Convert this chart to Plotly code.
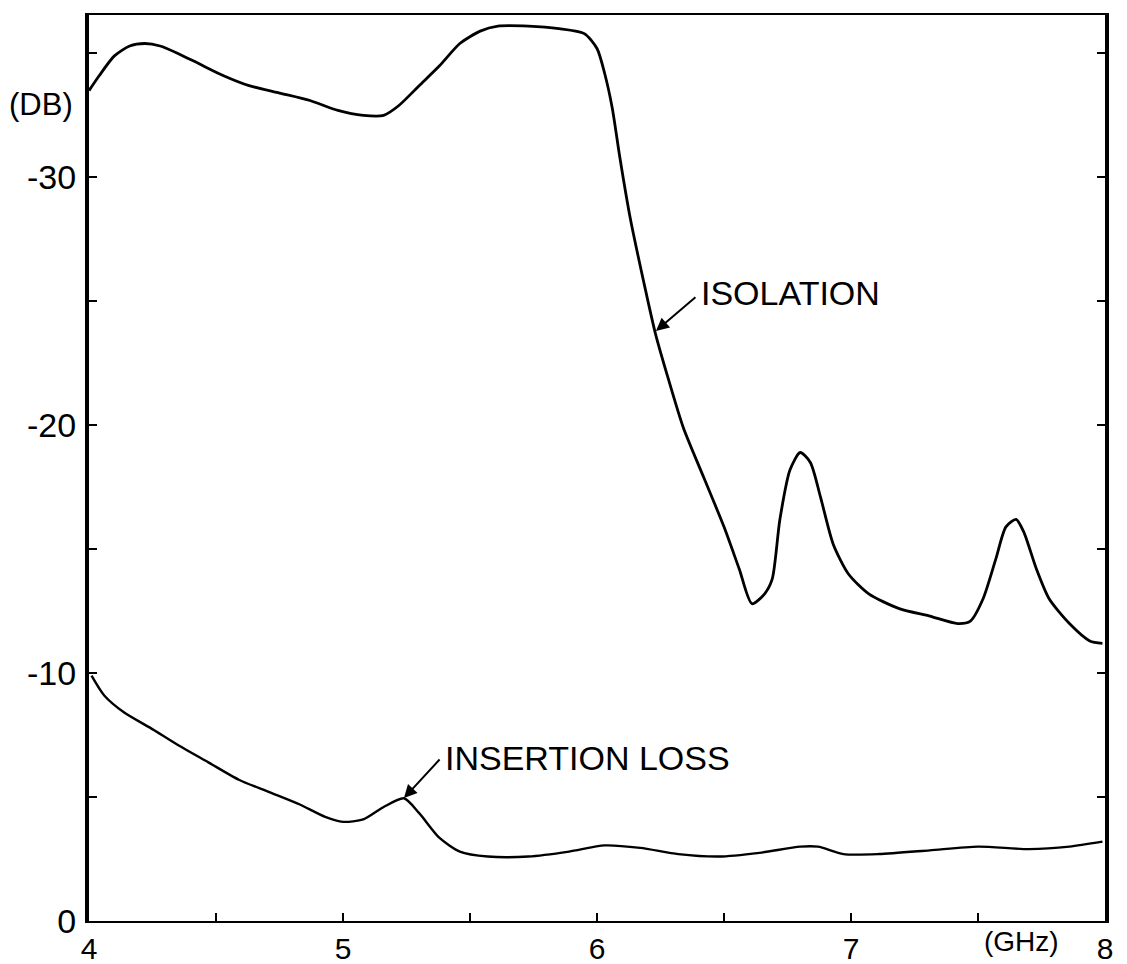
import plotly.graph_objects as go

# ---- data ----
iso_freq = [4.00, 4.04, 4.10, 4.16, 4.22, 4.28, 4.35, 4.43, 4.53, 4.63, 4.75, 4.87, 4.98,
            5.08, 5.16, 5.22, 5.30, 5.38, 5.46, 5.54, 5.61, 5.73, 5.85, 5.95, 6.00, 6.03,
            6.06, 6.09, 6.13, 6.19, 6.23, 6.28, 6.34, 6.42, 6.50, 6.56, 6.61, 6.66, 6.69,
            6.72, 6.76, 6.80, 6.84, 6.88, 6.93, 6.99, 7.07, 7.19, 7.31, 7.42, 7.47, 7.52,
            7.57, 7.61, 7.65, 7.68, 7.73, 7.78, 7.86, 7.94, 7.99]
iso_db = [-33.5, -34.1, -34.9, -35.3, -35.4, -35.3, -35.0, -34.6, -34.1, -33.7, -33.4, -33.1, -32.7,
          -32.5, -32.5, -32.9, -33.7, -34.5, -35.4, -35.9, -36.1, -36.1, -36.0, -35.8, -35.2, -34.2,
          -32.8, -30.8, -28.4, -25.5, -23.7, -21.9, -19.9, -17.9, -15.9, -14.2, -12.8, -13.2, -13.8,
          -16.2, -18.2, -18.9, -18.5, -17.1, -15.2, -14.0, -13.2, -12.6, -12.3, -12.0, -12.1, -13.0,
          -14.6, -15.9, -16.2, -15.7, -14.2, -13.0, -12.0, -11.3, -11.2]

il_freq = [4.01, 4.06, 4.14, 4.24, 4.35, 4.47, 4.59, 4.71, 4.83, 4.93, 5.00, 5.08, 5.16,
           5.24, 5.30, 5.38, 5.46, 5.57, 5.73, 5.89, 6.03, 6.17, 6.32, 6.48, 6.64, 6.80,
           6.87, 6.97, 7.11, 7.31, 7.50, 7.70, 7.86, 7.99]
il_db = [-9.9, -9.1, -8.4, -7.8, -7.1, -6.4, -5.7, -5.2, -4.7, -4.2, -4.0, -4.1, -4.6,
         -4.95, -4.35, -3.35, -2.8, -2.6, -2.6, -2.8, -3.05, -2.95, -2.7, -2.6, -2.75, -3.0,
         -3.0, -2.7, -2.7, -2.85, -3.0, -2.9, -3.0, -3.2]

x_tick_vals = [4, 5, 6, 7, 8]
x_tick_text = ["4", "5", "6", "7", "8"]
y_tick_vals = [0, -10, -20, -30]
y_tick_text = ["0", "-10", "-20", "-30"]

FONT = "Liberation Sans"

fig = go.Figure()
fig.add_trace(go.Scatter(x=iso_freq, y=iso_db, mode="lines", name="ISOLATION",
                         line=dict(color="black", width=2.8, shape="spline", smoothing=0.7)))
fig.add_trace(go.Scatter(x=il_freq, y=il_db, mode="lines", name="INSERTION LOSS",
                         line=dict(color="black", width=2.4, shape="spline", smoothing=0.7)))

fig.update_layout(
    width=1127, height=964,
    margin=dict(l=81, r=30, t=7, b=51, autoexpand=False),
    paper_bgcolor="white", plot_bgcolor="white",
    showlegend=False,
    font=dict(family=FONT, color="black"),
)

fig.update_xaxes(
    range=[4, 8], tickvals=x_tick_vals, ticktext=x_tick_text, automargin=False,
    ticks="inside", ticklen=8, tickwidth=2, tickcolor="black",
    minor=dict(tickmode="linear", tick0=4, dtick=0.5, ticks="inside", ticklen=8,
               tickwidth=2, tickcolor="black"),
    showline=True, linewidth=2, linecolor="black", mirror=True,
    showgrid=False, zeroline=False,
    tickfont=dict(family=FONT, size=30, color="black"), ticklabelstandoff=0,
)
fig.update_yaxes(
    range=[0, -36.55], tickvals=y_tick_vals, ticktext=y_tick_text, automargin=False,
    ticks="inside", ticklen=8, tickwidth=2, tickcolor="black",
    minor=dict(tickmode="linear", tick0=0, dtick=5, ticks="inside", ticklen=8,
               tickwidth=2, tickcolor="black"),
    showline=True, linewidth=4, linecolor="black", mirror="ticks",
    showgrid=False, zeroline=False,
    tickfont=dict(family=FONT, size=34, color="black"), ticklabelstandoff=2,
)

# arrows
fig.add_annotation(x=6.232, y=-23.8, ax=41, ay=-35, text="", showarrow=True,
                   arrowhead=2, arrowsize=1.3, arrowwidth=2, arrowcolor="black")
fig.add_annotation(x=5.24, y=-4.96, ax=37, ay=-40, text="", showarrow=True,
                   arrowhead=2, arrowsize=1.3, arrowwidth=2, arrowcolor="black")
# labels
fig.add_annotation(x=6.40, y=-25.35, text="ISOLATION", showarrow=False, xanchor="left",
                   yanchor="middle", font=dict(family=FONT, size=34, color="black"))
fig.add_annotation(x=5.395, y=-6.57, text="INSERTION LOSS", showarrow=False, xanchor="left",
                   yanchor="middle", font=dict(family=FONT, size=34, color="black"))
fig.add_annotation(xref="paper", yref="paper", x=-0.047, y=0.901, text="(DB)",
                   showarrow=False, xanchor="center", yanchor="middle",
                   font=dict(family=FONT, size=31, color="black"))
fig.add_annotation(xref="paper", yref="paper", x=0.918, y=-0.023, text="(GHz)",
                   showarrow=False, xanchor="center", yanchor="middle",
                   font=dict(family=FONT, size=28, color="black"))

fig.write_html("out.html")
